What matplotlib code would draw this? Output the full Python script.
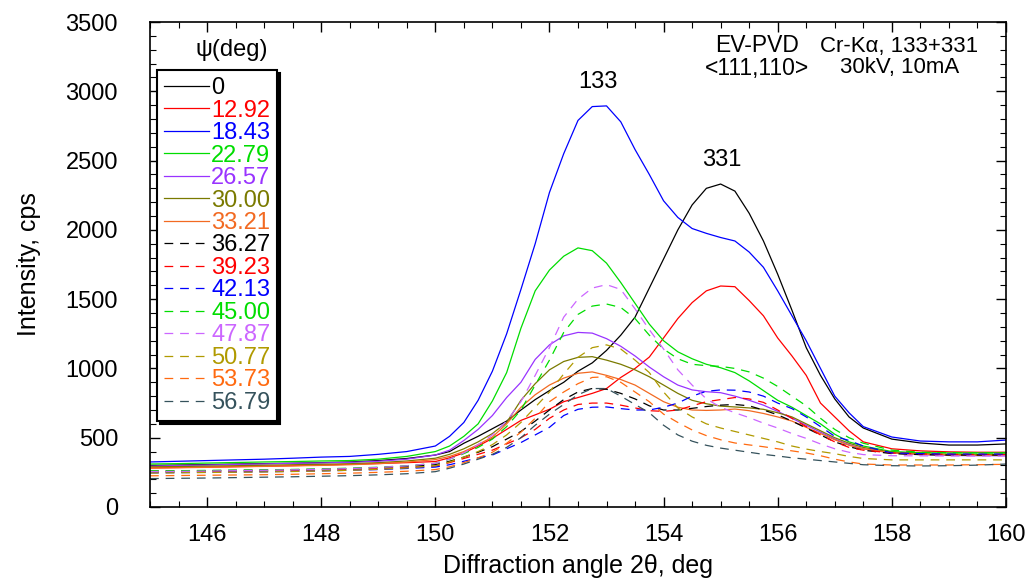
import matplotlib
matplotlib.use("Agg")
import matplotlib.pyplot as plt
from matplotlib.ticker import MultipleLocator
import numpy as np

plt.rcParams["font.family"] = ["Liberation Sans", "DejaVu Sans"]

# 2theta grid (deg): 0.5 step in the flat parts, 0.25 step across the peaks
two_theta = np.concatenate([
    np.arange(145.0, 150.01, 0.5),
    np.arange(150.25, 157.51, 0.25),
    np.arange(158.0, 160.01, 0.5),
])

psi_labels = ["0", "12.92", "18.43", "22.79", "26.57", "30.00", "33.21",
              "36.27", "39.23", "42.13", "45.00", "47.87", "50.77", "53.73", "56.79"]

# intensity, cps
i_0 = [300, 303, 306, 310, 313, 316, 320, 325, 335, 350, 375,
       400, 460, 510, 565, 620, 700, 775, 840, 900, 980, 1040, 1130, 1240, 1370, 1580,
       1790, 2000, 2180, 2300, 2331, 2280, 2120, 1920, 1680, 1420, 1150, 950, 780, 650, 570,
       490, 462, 447, 447, 455]
i_1292 = [282, 285, 288, 291, 294, 298, 303, 308, 314, 320, 328,
          355, 390, 440, 495, 560, 625, 665, 705, 760, 790, 820, 855, 935, 1000, 1082,
          1220, 1360, 1475, 1560, 1595, 1590, 1490, 1380, 1220, 1090, 950, 750, 650, 550, 470,
          420, 405, 398, 395, 395]
i_1843 = [325, 330, 335, 340, 345, 352, 360, 365, 380, 400, 440,
          510, 610, 770, 980, 1250, 1570, 1900, 2270, 2550, 2790, 2890, 2895, 2780, 2580, 2400,
          2210, 2090, 2010, 1975, 1945, 1920, 1840, 1730, 1560, 1380, 1200, 1000, 800, 680, 580,
          505, 476, 470, 470, 483]
i_2279 = [310, 313, 317, 321, 325, 328, 332, 335, 345, 365, 400,
          440, 510, 600, 765, 970, 1290, 1560, 1710, 1810, 1870, 1850, 1760, 1620, 1470, 1320,
          1200, 1120, 1070, 1030, 1005, 970, 910, 840, 770, 720, 660, 600, 525, 470, 440,
          400, 392, 390, 390, 390]
i_2657 = [295, 299, 303, 307, 311, 315, 318, 322, 330, 345, 375,
          410, 480, 560, 660, 790, 900, 1065, 1170, 1235, 1260, 1255, 1215, 1160, 1090, 1010,
          940, 880, 845, 832, 825, 800, 770, 735, 690, 640, 590, 540, 490, 450, 420,
          390, 378, 372, 370, 370]
i_3000 = [290, 292, 295, 298, 301, 305, 308, 312, 320, 332, 352,
          380, 420, 470, 530, 610, 770, 890, 990, 1050, 1080, 1085, 1060, 1030, 990, 940,
          880, 820, 770, 745, 728, 722, 715, 705, 680, 650, 600, 550, 500, 460, 430,
          395, 385, 380, 378, 378]
i_3321 = [280, 283, 286, 290, 293, 297, 300, 305, 312, 324, 342,
          365, 400, 450, 505, 600, 720, 810, 880, 930, 965, 975, 950, 920, 880, 820,
          760, 720, 700, 697, 700, 707, 695, 675, 650, 620, 575, 530, 485, 445, 420,
          390, 380, 375, 373, 373]
i_3627 = [258, 260, 262, 264, 266, 269, 272, 277, 284, 293, 305,
          330, 360, 395, 435, 490, 545, 620, 700, 775, 830, 855, 850, 820, 780, 730,
          700, 700, 712, 725, 735, 740, 730, 700, 665, 620, 570, 520, 470, 435, 410,
          385, 378, 375, 375, 375]
i_3923 = [252, 254, 256, 258, 260, 263, 267, 271, 277, 285, 295,
          320, 350, 380, 410, 455, 500, 560, 640, 700, 740, 750, 750, 735, 715, 695,
          690, 700, 730, 760, 775, 790, 780, 755, 700, 640, 580, 520, 470, 430, 410,
          390, 383, 380, 380, 380]
i_4213 = [246, 248, 250, 252, 254, 257, 260, 265, 270, 278, 288,
          305, 330, 355, 375, 420, 465, 520, 575, 660, 705, 720, 722, 710, 700, 700,
          720, 750, 800, 835, 845, 843, 830, 800, 750, 710, 650, 580, 510, 480, 440,
          390, 385, 382, 382, 382]
i_4500 = [260, 262, 264, 266, 268, 271, 275, 280, 287, 298, 315,
          345, 385, 430, 490, 580, 700, 880, 1060, 1260, 1390, 1450, 1465, 1440, 1360, 1240,
          1140, 1070, 1030, 1020, 1015, 1000, 975, 930, 870, 800, 730, 640, 560, 500, 460,
          410, 395, 392, 390, 390]
i_4787 = [255, 257, 259, 262, 265, 268, 272, 277, 285, 297, 315,
          345, 390, 450, 520, 620, 760, 950, 1150, 1370, 1500, 1580, 1605, 1570, 1430, 1280,
          1140, 990, 880, 780, 720, 680, 645, 605, 570, 530, 495, 455, 420, 395, 378,
          370, 369, 368, 368, 368]
i_5077 = [245, 247, 249, 251, 253, 256, 260, 265, 272, 282, 298,
          325, 360, 400, 450, 520, 610, 720, 830, 960, 1080, 1150, 1170, 1140, 1060, 970,
          830, 715, 650, 600, 570, 545, 520, 495, 470, 440, 418, 400, 385, 365, 350,
          340, 340, 340, 340, 340]
i_5373 = [225, 227, 229, 231, 233, 236, 240, 244, 250, 258, 270,
          290, 320, 355, 395, 460, 540, 640, 760, 830, 890, 935, 940, 900, 830, 760,
          670, 610, 556, 515, 485, 462, 448, 435, 420, 405, 390, 370, 345, 325, 310,
          303, 303, 303, 305, 308]
i_5679 = [205, 207, 209, 212, 215, 218, 222, 226, 232, 240, 255,
          280, 310, 345, 380, 430, 500, 590, 670, 740, 810, 855, 855, 800, 740, 680,
          590, 520, 475, 445, 425, 410, 395, 380, 368, 355, 345, 335, 325, 315, 305,
          298, 296, 298, 302, 310]

series = [i_0, i_1292, i_1843, i_2279, i_2657, i_3000, i_3321,
          i_3627, i_3923, i_4213, i_4500, i_4787, i_5077, i_5373, i_5679]
colors = ["#000000", "#ff0000", "#0000ff", "#00dd00", "#9933ff", "#7a7a00", "#f26a22",
          "#000000", "#ff0000", "#0000ff", "#00dd00", "#cc66ff", "#b09a00", "#ff6a10", "#35525c"]

FS = 17

fig = plt.figure(figsize=(10.31, 5.81), dpi=100)
ax = fig.add_axes([0.1455, 0.1274, 0.8302, 0.8346])

for k, (vals, col, lab) in enumerate(zip(series, colors, psi_labels)):
    if k < 7:
        ax.plot(two_theta, vals, color=col, lw=0.9, label=lab)
    else:
        ax.plot(two_theta, vals, color=col, lw=0.9, dashes=(7, 5.5), label=lab)

ax.set_xlim(145, 160)
ax.set_ylim(0, 3500)
ax.xaxis.set_major_locator(MultipleLocator(2))
ax.xaxis.set_minor_locator(MultipleLocator(0.5))
ax.yaxis.set_major_locator(MultipleLocator(500))
ax.yaxis.set_minor_locator(MultipleLocator(100))
ax.tick_params(which="both", direction="in", top=True, right=True, labelsize=FS)
ax.tick_params(axis="y", pad=23)
ax.tick_params(axis="x", pad=12)
ax.tick_params(which="major", length=7, width=1.0)
ax.tick_params(which="minor", length=4, width=0.8)
for sp in ax.spines.values():
    sp.set_linewidth(1.2)

ax.set_xlabel("Diffraction angle 2θ, deg", fontsize=18, labelpad=6)
ax.set_ylabel("Intensity, cps", fontsize=18, labelpad=18)

leg = ax.legend(loc="upper left", bbox_to_anchor=(0.008, 0.901), fontsize=FS,
                labelcolor="linecolor", frameon=True, fancybox=False,
                shadow={"color": "black", "alpha": 1.0}, edgecolor="black",
                framealpha=1.0, handlelength=1.9, handletextpad=0.1,
                labelspacing=0.02, borderpad=0.3, borderaxespad=0.0)
leg.get_frame().set_linewidth(1.5)
ax.text(0.096, 0.942, "ψ(deg)", transform=ax.transAxes, fontsize=FS,
        ha="center", va="center")

ax.text(152.85, 3070, "133", fontsize=FS, ha="center", va="center")
ax.text(155.02, 2505, "331", fontsize=FS, ha="center", va="center")
ax.text(155.63, 3245, "EV-PVD\n<111,110>", fontsize=16.5, ha="center", va="center",
        linespacing=1.0)
ax.text(158.13, 3245, "Cr-Kα, 133+331\n30kV, 10mA", fontsize=16, ha="center",
        va="center", linespacing=1.0)

fig.savefig("out.png", dpi=100)
